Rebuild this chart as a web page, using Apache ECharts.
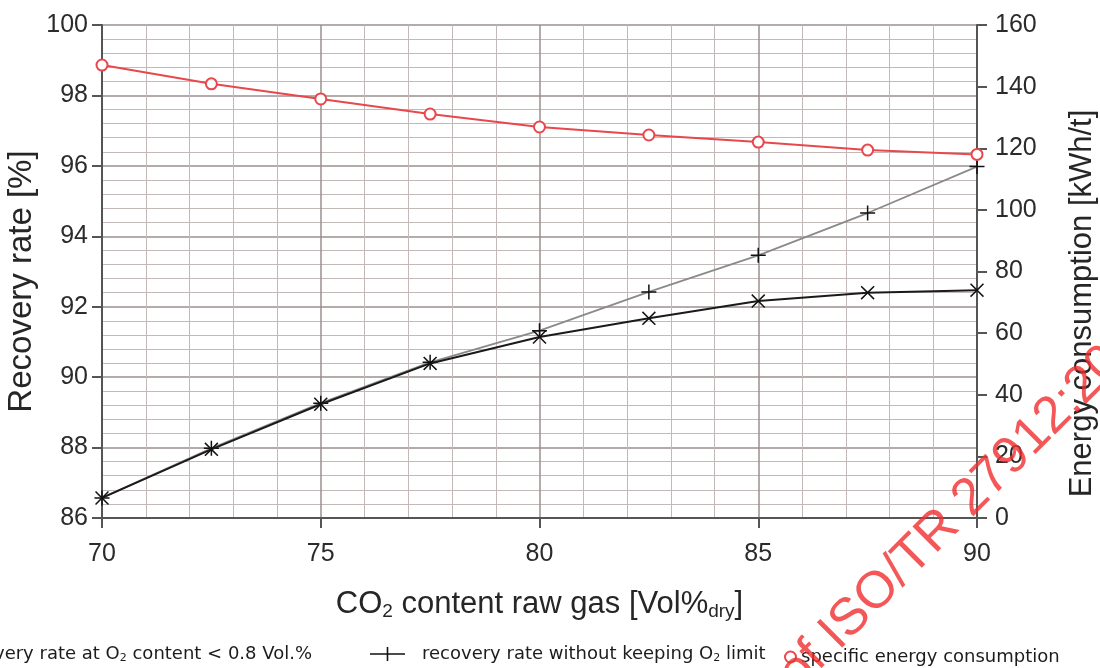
<!DOCTYPE html>
<html><head><meta charset="utf-8">
<script src="https://cdn.jsdelivr.net/npm/echarts@6/dist/echarts.min.js"></script>
<style>html,body{margin:0;padding:0;background:#fff}#c{width:1100px;height:668px}</style>
</head><body><div id="c"></div>
<script>
// ---- data ----
const co2Content = [70, 72.5, 75, 77.5, 80, 82.5, 85, 87.5, 90];
const recoveryO2Limit = [86.57, 87.95, 89.23, 90.39, 91.14, 91.67, 92.16, 92.40, 92.47];
const recoveryNoLimit = [86.57, 87.98, 89.26, 90.42, 91.32, 92.42, 93.46, 94.66, 95.98];
const energyConsumption = [147.0, 140.9, 136.0, 131.1, 126.9, 124.3, 122.0, 119.4, 118.0];
const seriesNames = [
  'recovery rate at O2 content < 0.8 Vol.%',
  'recovery rate without keeping O2 limit',
  'specific energy consumption'
];
const xAxisTitle = 'CO{sub|2} content raw gas [Vol%{sub|dry}]';
const leftAxisTitle = 'Recovery rate [%]';
const rightAxisTitle = 'Energy consumption [kWh/t]';
const watermarkText = 'of ISO/TR 27912:2016';

const FONT = "'Liberation Sans', Arial, sans-serif";
const LEG_FONT = "'DejaVu Sans', sans-serif";
const crossSym = 'path://M0,1.5 L1.5,0 L10,8.5 L18.5,0 L20,1.5 L11.5,10 L20,18.5 L18.5,20 L10,11.5 L1.5,20 L0,18.5 L8.5,10 Z';
const plusSym = 'path://M9,0 L11,0 L11,9 L20,9 L20,11 L11,11 L11,20 L9,20 L9,11 L0,11 L0,9 L9,9 Z';
const crossIcon = 'path://M0,9.3 L35,9.3 L35,10.7 L0,10.7 Z M12,3 L13.2,1.8 L17.5,6.8 L21.8,1.8 L23,3 L18.7,8 L23,13 L21.8,14.2 L17.5,9.2 L13.2,14.2 L12,13 L16.3,8 Z';
const plusIcon = 'path://M0,9.3 L35,9.3 L35,10.7 L0,10.7 Z M16.7,3 L18.3,3 L18.3,17 L16.7,17 Z';

const pairs = (ys) => co2Content.map((x, i) => [x, ys[i]]);
const legText = {
  fontFamily: LEG_FONT, fontSize: 18, color: '#1c1c1c',
  rich: { sub: { fontFamily: LEG_FONT, fontSize: 11, color: '#1c1c1c', padding: [9, 0, 0, 0] } }
};
const legFmt = (n) => n.replace('O2', 'O{sub|2}');

const chart = echarts.init(document.getElementById('c'));
chart.setOption({
  backgroundColor: '#ffffff',
  animation: false,
  grid: { left: 102, right: 123, top: 25, bottom: 150, outerBoundsMode: 'none', containLabel: false },
  legend: [
    { data: [seriesNames[0]], left: -90, top: 640, itemWidth: 35, itemHeight: 20, icon: crossIcon,
      formatter: legFmt, textStyle: legText, selectedMode: false },
    { data: [seriesNames[1]], left: 365, top: 640, itemWidth: 35, itemHeight: 20, icon: plusIcon,
      formatter: legFmt, textStyle: Object.assign({}, legText, { padding: [0, 0, 0, 12] }), selectedMode: false },
    { data: [seriesNames[2]], left: 779, top: 643, itemWidth: 11, itemHeight: 11, icon: 'emptyCircle',
      formatter: legFmt, textStyle: legText, selectedMode: false }
  ],
  xAxis: {
    type: 'value', min: 70, max: 90, interval: 5,
    name: xAxisTitle, nameLocation: 'middle', nameGap: 70, nameMoveOverlap: false,
    nameTextStyle: { fontFamily: FONT, fontSize: 31, color: '#262626',
      rich: { sub: { fontFamily: FONT, fontSize: 19, color: '#262626', padding: [14, 0, 0, 0] } } },
    axisLine: { show: true, onZero: false, lineStyle: { color: '#555', width: 2 } },
    axisTick: { show: true, length: 10, lineStyle: { color: '#555', width: 2 } },
    axisLabel: { fontFamily: FONT, fontSize: 25, color: '#2b2b2b', margin: 24 },
    splitLine: { show: true, lineStyle: { color: '#9b8f8f', width: 1.5 } },
    minorTick: { show: false, splitNumber: 5 },
    minorSplitLine: { show: true, lineStyle: { color: '#c4b9b9', width: 1 } }
  },
  yAxis: [
    {
      type: 'value', min: 86, max: 100, interval: 2, position: 'left',
      name: leftAxisTitle, nameLocation: 'middle', nameGap: 64, nameRotate: 90, nameMoveOverlap: false,
      nameTextStyle: { fontFamily: FONT, fontSize: 33, color: '#262626', padding: [0, 20, 0, 0] },
      axisLine: { show: true, lineStyle: { color: '#555', width: 2 } },
      axisTick: { show: true, length: 10, lineStyle: { color: '#555', width: 2 } },
      axisLabel: { fontFamily: FONT, fontSize: 25, color: '#2b2b2b', margin: 14 },
      splitLine: { show: true, lineStyle: { color: '#9b8f8f', width: 1.5 } },
      minorTick: { show: false, splitNumber: 5 },
      minorSplitLine: { show: true, lineStyle: { color: '#c4b9b9', width: 1 } }
    },
    {
      type: 'value', min: 0, max: 160, interval: 20, position: 'right',
      name: rightAxisTitle, nameLocation: 'middle', nameGap: 90, nameRotate: 90, nameMoveOverlap: false,
      nameTextStyle: { fontFamily: FONT, fontSize: 31, color: '#262626', padding: [0, 64, 0, 0] },
      axisLine: { show: true, lineStyle: { color: '#555', width: 2 } },
      axisTick: { show: true, length: 10, lineStyle: { color: '#555', width: 2 } },
      axisLabel: { fontFamily: FONT, fontSize: 25, color: '#2b2b2b', margin: 18 },
      splitLine: { show: false }
    }
  ],
  series: [
    {
      name: seriesNames[1], type: 'line', yAxisIndex: 0, z: 2,
      data: pairs(recoveryNoLimit),
      symbol: plusSym, symbolSize: 15,
      itemStyle: { color: '#111' },
      lineStyle: { color: '#8a8a8a', width: 1.8 }
    },
    {
      name: seriesNames[0], type: 'line', yAxisIndex: 0, z: 3,
      data: pairs(recoveryO2Limit),
      symbol: crossSym, symbolSize: 14,
      itemStyle: { color: '#111' },
      lineStyle: { color: '#1a1a1a', width: 2 }
    },
    {
      name: seriesNames[2], type: 'line', yAxisIndex: 1, z: 4,
      data: pairs(energyConsumption),
      symbol: 'emptyCircle', symbolSize: 11,
      itemStyle: { color: '#e8474c', borderColor: '#e8474c', borderWidth: 1.6 },
      lineStyle: { color: '#e8474c', width: 2 }
    }
  ],
  graphic: [{
    type: 'text', x: 806, y: 700, rotation: Math.PI / 4, z: 100,
    style: { text: watermarkText, fontFamily: FONT, fontSize: 52, fill: 'rgba(240,45,45,0.8)',
      verticalAlign: 'bottom', align: 'left' }
  }]
});
</script></body></html>
